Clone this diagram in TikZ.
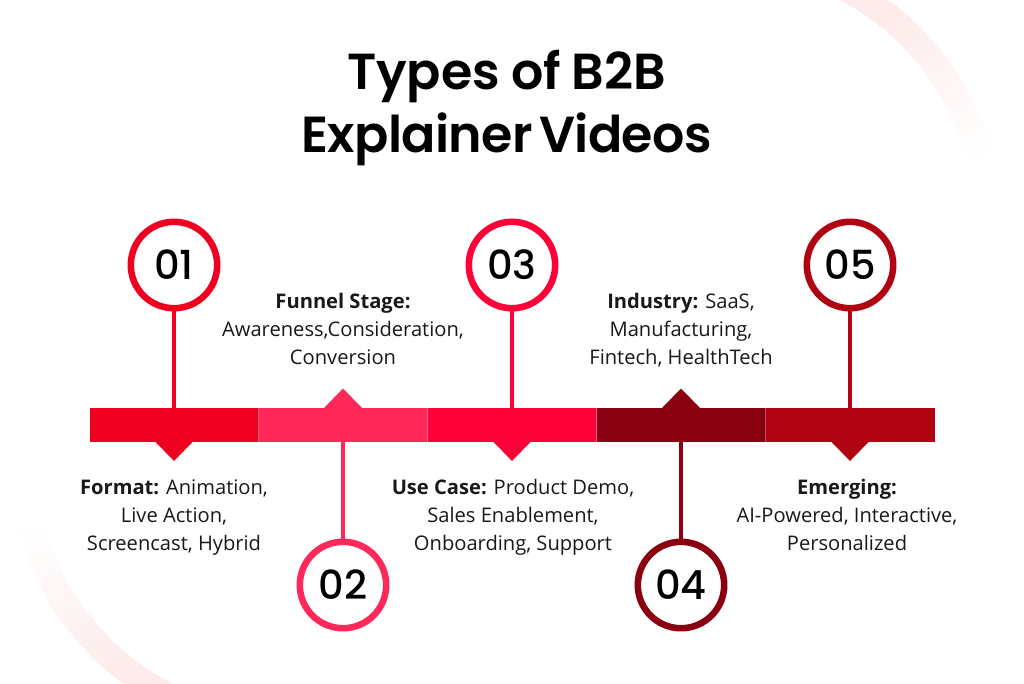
\documentclass[tikz,border=0pt]{standalone}
\usepackage{fontspec}
\setmainfont{Open Sans}
\newfontfamily\titlefont[UprightFont=* SemiBold,WordSpace=0.9]{Poppins}
\newfontfamily\titlefontb[UprightFont=* SemiBold,WordSpace=0.6,LetterSpace=-1.3]{Poppins}
\newfontfamily\numfont[UprightFont=* Medium]{Poppins}
\definecolor{cA}{HTML}{EF0020}
\definecolor{cB}{HTML}{FF2858}
\definecolor{cC}{HTML}{FF0038}
\definecolor{cD}{HTML}{8B0010}
\definecolor{cE}{HTML}{B10413}
\definecolor{arcpink}{HTML}{FEECEC}
\tikzset{
  seg/.style={fill=#1,draw=none,inner sep=0pt,outer sep=0pt,minimum width=126.75pt,minimum height=25.875pt,anchor=north west},
  numring/.style={circle,draw=#1,line width=4.9pt,fill=white,minimum size=64.8pt,inner sep=0pt,font=\numfont\fontsize{30}{30}\selectfont,text=black},
  stem/.style={draw=#1,line width=3pt},
  tick/.style={fill=#1,draw=none},
  sep/.style={draw=white,draw opacity=0.35,line width=0.5pt},
  info/.style={align=center,font=\fontsize{15.1}{21}\selectfont,text=black!90,inner sep=0pt},
  headline/.style={align=center,font=\fontsize{38}{47.5}\selectfont,text=black,inner sep=0pt},
}
\begin{document}
\begin{tikzpicture}[x=0.75pt,y=-0.75pt]
\useasboundingbox (0,0) rectangle (1024,683);
\clip (0,0) rectangle (1024,683);
\fill[white] (0,0) rectangle (1024,683);
% faint decorative arcs, fading towards their ends
\foreach \i in {0,...,59}{
  \pgfmathsetmacro{\aS}{70-\i*1.0}
  \pgfmathsetmacro{\aE}{\aS-1.15}
  \pgfmathsetmacro{\mixv}{\i<20?100:max(0,100*(55-\i)/35)}
  \draw[color=arcpink!\mixv!white,line width=19.5pt]
    ({720+269*cos(\aS)},{226-269*sin(\aS)}) -- ({720+269*cos(\aE)},{226-269*sin(\aE)});
  \draw[color=arcpink!\mixv!white,line width=19.5pt]
    ({291-269*cos(\aS)},{457+269*sin(\aS)}) -- ({291-269*cos(\aE)},{457+269*sin(\aE)});
}
\node[headline] (title) at (506.5,108) {\titlefont Types of B2B\\\titlefontb Explainer Videos};
% bar
\node[seg=cA] (s1) at (89.5,407.5) {};
\node[seg=cB] (s2) at (258.5,407.5) {};
\node[seg=cC] (s3) at (427.5,407.5) {};
\node[seg=cD] (s4) at (596.5,407.5) {};
\node[seg=cE] (s5) at (765.5,407.5) {};
\draw[sep] (s1.north east) -- (s1.south east);
\draw[sep] (s2.north east) -- (s2.south east);
\draw[sep] (s3.north east) -- (s3.south east);
\draw[sep] (s4.north east) -- (s4.south east);
% ticks
\fill[tick=cA] (155,441.5) -- (174,461) -- (193,441.5) -- cycle;
\fill[tick=cB] (324,408) -- (343,388.5) -- (362,408) -- cycle;
\fill[tick=cC] (493,441.5) -- (512,461) -- (531,441.5) -- cycle;
\fill[tick=cD] (662,408) -- (681,388.5) -- (700,408) -- cycle;
\fill[tick=cE] (831,441.5) -- (850,461) -- (869,441.5) -- cycle;
% rings
\node[numring=cA] (n1) at (174,265) {01};
\node[numring=cB] (n2) at (343,585) {02};
\node[numring=cC] (n3) at (512,265) {03};
\node[numring=cD] (n4) at (681,585) {04};
\node[numring=cE] (n5) at (850,265) {05};
% stems
\draw[stem=cA] (n1) -- ([yshift=-1pt]n1 |- s1.north);
\draw[stem=cB] (n2) -- ([yshift=1pt]n2 |- s2.south);
\draw[stem=cC] (n3) -- ([yshift=-1pt]n3 |- s3.north);
\draw[stem=cD] (n4) -- ([yshift=1pt]n4 |- s4.south);
\draw[stem=cE] (n5) -- ([yshift=-1pt]n5 |- s5.north);
% labels
\node[info] (t1) at (174,516.5) {\strut\textbf{Format:} Animation,\\Live Action,\\Screencast, Hybrid\strut};
\node[info] (t2) at (343,331) {\strut\textbf{Funnel Stage:}\\Awareness,Consideration,\\Conversion\strut};
\node[info] (t3) at (513,516.5) {\strut\textbf{Use Case:} Product Demo,\\Sales Enablement,\\Onboarding, Support\strut};
\node[info] (t4) at (681,331) {\strut\textbf{Industry:} SaaS,\\Manufacturing,\\Fintech, HealthTech\strut};
\node[info] (t5) at (847,516.5) {\strut\textbf{Emerging:}\\AI-Powered, Interactive,\\Personalized\strut};
\end{tikzpicture}
\end{document}
